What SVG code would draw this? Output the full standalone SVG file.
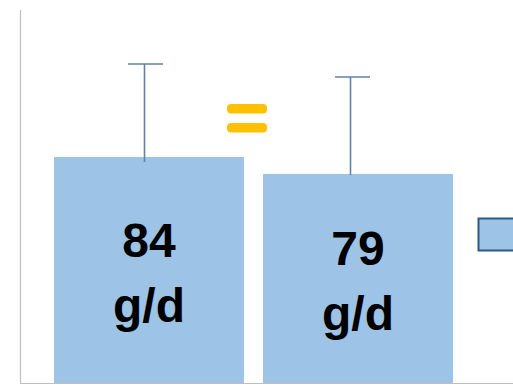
<svg xmlns="http://www.w3.org/2000/svg" width="513" height="390" viewBox="0 0 513 390">
<style>
.bar{fill:#9dc3e6}
.err{stroke:#5f82a6;stroke-width:1.6;fill:none}
.axis{stroke:#bfbfbf;stroke-width:1.2;fill:none}
.lbl{font-family:"Liberation Sans",Arial,sans-serif;font-weight:bold;font-size:48px;fill:#000;text-anchor:middle}
.eq{fill:#ffc000}
</style>
<rect width="513" height="390" fill="#fff"/>
<g id="axes">
<line class="axis" x1="20.5" y1="10" x2="20.5" y2="383.5"/>
<line class="axis" x1="20" y1="383.5" x2="513" y2="383.5"/>
</g>
<g id="bar1">
<rect class="bar" x="54" y="157" width="190" height="226"/>
<text class="lbl" x="149" y="257">84</text>
<text class="lbl" x="149" y="322">g/d</text>
</g>
<g id="bar2">
<rect class="bar" x="263" y="174" width="190" height="209"/>
<text class="lbl" x="358" y="265">79</text>
<text class="lbl" x="358" y="330">g/d</text>
</g>
<g id="connectors">
<line class="err" x1="144.5" y1="64" x2="144.5" y2="162"/>
<line class="err" x1="128" y1="64" x2="163" y2="64"/>
<line class="err" x1="350.5" y1="77" x2="350.5" y2="175"/>
<line class="err" x1="335" y1="77" x2="370" y2="77"/>
</g>
<g id="equals">
<rect class="eq" x="227" y="104" width="40" height="9.5" rx="4"/>
<rect class="eq" x="227" y="123" width="40" height="9.5" rx="4"/>
</g>
<g id="legend">
<rect x="478.5" y="218.5" width="40" height="32" fill="#9dc3e6" stroke="#2e5a87" stroke-width="2"/>
</g>
</svg>
